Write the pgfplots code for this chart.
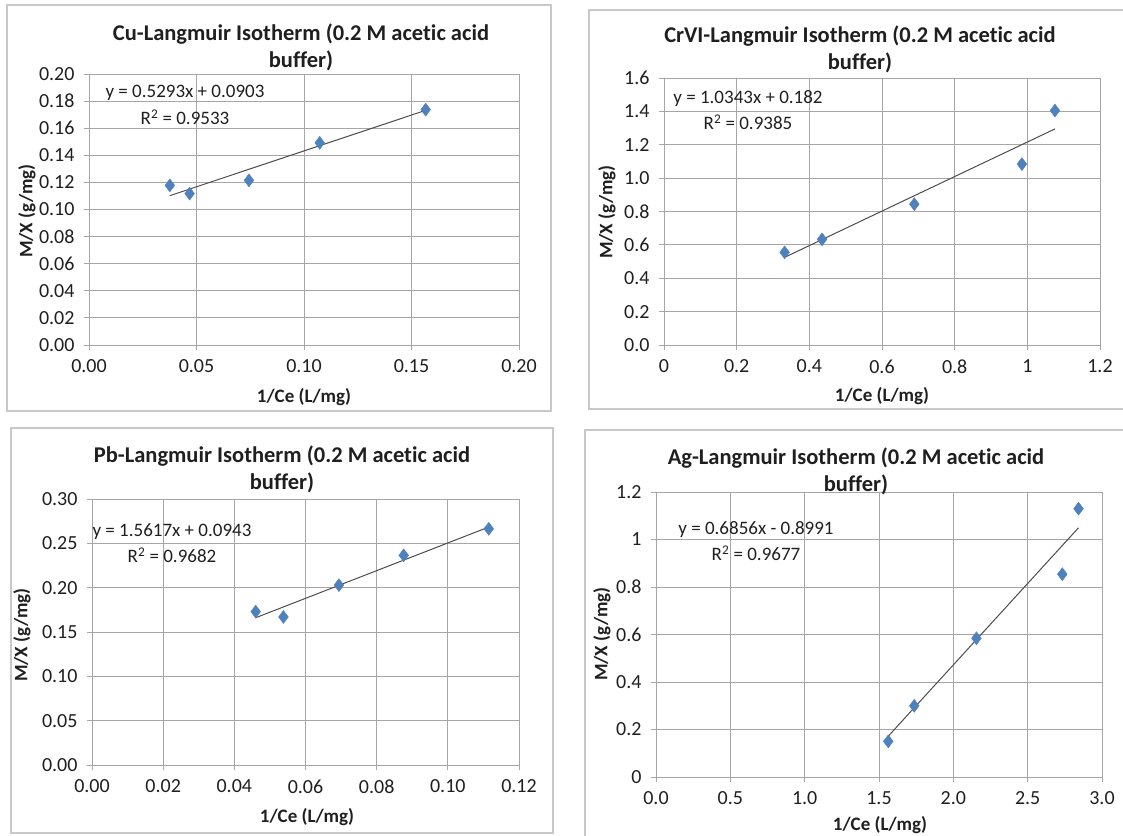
\documentclass[border=0pt]{standalone}
\usepackage{fontspec}
\setmainfont{Carlito}[Ligatures=NoCommon]
\usepackage{pgfplots}
\pgfplotsset{compat=1.18}
\definecolor{mk}{HTML}{4F81BD}
\definecolor{gridc}{HTML}{A6A6A6}
\definecolor{framec}{HTML}{C8C8C8}
\definecolor{txt}{HTML}{1F1F1F}
\pgfplotsset{
  excel/.style={
    scale only axis,
    anchor=south west,
    axis line style={gridc, line width=1pt},
    xmajorgrids, ymajorgrids,
    major grid style={gridc, line width=1pt},
    tick align=outside,
    xtick pos=bottom, ytick pos=left,
    major tick length=5pt,
    tick style={gridc, line width=1pt},
    /pgf/number format/assume math mode=true,
    ticklabel style={font=\fontsize{20}{20}\selectfont, text=txt},
    xticklabel style={yshift=-6pt},
    yticklabel style={xshift=-6pt},
    clip=false,
  },
  pts/.style={only marks, mark=diamond*, mark size=6.5pt, mark options={fill=mk, draw=mk}},
  trend/.style={no marks, color=black!70, line width=1pt},
}
\begin{document}
\begin{tikzpicture}
\path[use as bounding box] (0pt,0pt) rectangle (1123pt,-835pt);
% frames
\draw[framec, line width=1.3pt] (7pt,-5pt) rectangle (551pt,-411pt);
\draw[framec, line width=1.3pt] (589pt,-10pt) rectangle (1130pt,-409pt);
\draw[framec, line width=1.3pt] (11pt,-428pt) rectangle (553pt,-833pt);
\draw[framec, line width=1.3pt] (585pt,-430pt) rectangle (1130pt,-840pt);

% Cu
\begin{axis}[excel, at={(89pt,-345pt)}, width=430pt, height=271pt,
  xmin=0, xmax=0.2, ymin=0, ymax=0.2,
  xtick={0,0.05,...,0.2}, ytick={0,0.02,...,0.2},
  xticklabel style={/pgf/number format/.cd, fixed, fixed zerofill, precision=2},
  yticklabel style={/pgf/number format/.cd, fixed, fixed zerofill, precision=2}]
\addplot[trend] coordinates {(0.0376,0.1102) (0.1566,0.1732)};
\addplot[pts] coordinates {(0.0376,0.1178) (0.0468,0.1117) (0.0744,0.1215) (0.1073,0.1492) (0.1566,0.1737)};
\end{axis}

% CrVI
\begin{axis}[excel, at={(664pt,-345pt)}, width=436pt, height=267pt,
  xmin=0, xmax=1.2, ymin=0, ymax=1.6,
  xtick={0,0.2,0.4,0.6,0.8,1,1.2}, ytick={0,0.2,...,1.6},
  xticklabels={0,0.2,0.4,0.6,0.8,1,1.2},
  yticklabel style={/pgf/number format/.cd, fixed, fixed zerofill, precision=1}]
\addplot[trend] coordinates {(0.332,0.5254) (1.076,1.2949)};
\addplot[pts] coordinates {(0.332,0.555) (0.435,0.633) (0.689,0.844) (0.985,1.084) (1.076,1.405)};
\end{axis}

% Pb
\begin{axis}[excel, at={(92pt,-765pt)}, width=427pt, height=266pt,
  xmin=0, xmax=0.12, ymin=0, ymax=0.3,
  xtick={0,0.02,...,0.12}, ytick={0,0.05,...,0.3},
  xticklabel style={/pgf/number format/.cd, fixed, fixed zerofill, precision=2},
  yticklabel style={/pgf/number format/.cd, fixed, fixed zerofill, precision=2}]
\addplot[trend] coordinates {(0.046,0.1661) (0.1115,0.2684)};
\addplot[pts] coordinates {(0.046,0.173) (0.0538,0.167) (0.0694,0.2029) (0.0876,0.2365) (0.1115,0.2664)};
\end{axis}

% Ag
\begin{axis}[excel, at={(656pt,-777pt)}, width=446pt, height=285pt,
  xmin=0, xmax=3, ymin=0, ymax=1.2,
  xtick={0,0.5,...,3}, ytick={0,0.2,0.4,0.6,0.8,1,1.2},
  yticklabels={0,0.2,0.4,0.6,0.8,1,1.2},
  xticklabel style={/pgf/number format/.cd, fixed, fixed zerofill, precision=1}]
\addplot[trend] coordinates {(1.562,0.1718) (2.842,1.0494)};
\addplot[pts] coordinates {(1.562,0.150) (1.737,0.300) (2.155,0.584) (2.733,0.854) (2.842,1.130)};
\end{axis}

% titles
\begin{scope}[every node/.style={font=\fontsize{22.5}{27}\selectfont\bfseries, text=txt, align=center}]
\node at (301pt,-47pt) {Cu-Langmuir Isotherm (0.2 M acetic acid\\buffer)};
\node at (860pt,-49pt) {CrVI-Langmuir Isotherm (0.2 M acetic acid\\buffer)};
\node at (282pt,-469pt) {Pb-Langmuir Isotherm (0.2 M acetic acid\\buffer)};
\node at (856pt,-471pt) {Ag-Langmuir Isotherm (0.2 M acetic acid\\buffer)};
\end{scope}
% axis labels
\begin{scope}[every node/.style={font=\fontsize{19}{19}\selectfont\bfseries, text=txt}]
\node at (304pt,-397pt) {1/Ce (L/mg)};
\node at (882pt,-396pt) {1/Ce (L/mg)};
\node at (307pt,-817pt) {1/Ce (L/mg)};
\node at (880pt,-825pt) {1/Ce (L/mg)};
\node[rotate=90] at (27pt,-211pt) {M/X (g/mg)};
\node[rotate=90] at (607pt,-212pt) {M/X (g/mg)};
\node[rotate=90] at (22pt,-635pt) {M/X (g/mg)};
\node[rotate=90] at (602pt,-634pt) {M/X (g/mg)};
\end{scope}
% equations
\begin{scope}[every node/.style={font=\fontsize{19}{19}\selectfont, text=txt}]
\node at (185pt,-93pt) {y = 0.5293x + 0.0903};
\node at (185pt,-117pt) {R\textsuperscript{2} = 0.9533};
\node at (748pt,-99pt) {y = 1.0343x + 0.182};
\node at (748pt,-122pt) {R\textsuperscript{2} = 0.9385};
\node at (172pt,-532pt) {y = 1.5617x + 0.0943};
\node at (172pt,-555pt) {R\textsuperscript{2} = 0.9682};
\node at (756pt,-530pt) {y = 0.6856x - 0.8991};
\node at (756pt,-553pt) {R\textsuperscript{2} = 0.9677};
\end{scope}
\end{tikzpicture}
\end{document}
